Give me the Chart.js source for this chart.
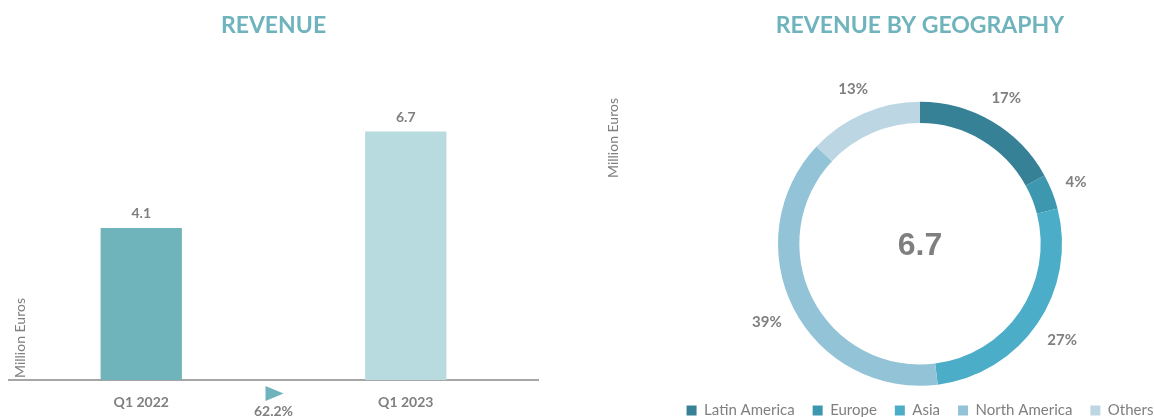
<!DOCTYPE html>
<html>
<head>
<meta charset="utf-8">
<title>Revenue</title>
<script src="https://cdn.jsdelivr.net/npm/chart.js@4"></script>
<style>
  html, body { margin: 0; padding: 0; background: #fff; }
  body { width: 1154px; height: 417px; overflow: hidden; position: relative; }
  #revenue-box { position: absolute; left: 0; top: 0; }
  #geo-box { position: absolute; left: 600px; top: 0; }
</style>
</head>
<body>
<div id="revenue-box"><canvas id="revenue" width="560" height="432"></canvas></div>
<div id="geo-box"><canvas id="geo" width="640" height="428"></canvas></div>
<script>
// Revenue per quarter (million euros)
const quarters = ['Q1 2022', 'Q1 2023'];
const revenue = [4.1, 6.7];
const growthLabel = '62.2%';

// Revenue split by geography for the latest quarter (%)
const regions = ['Latin America', 'Europe', 'Asia', 'North America', 'Others'];
const regionShares = [17, 4, 27, 39, 13];
const totalRevenue = revenue[revenue.length - 1];

const grey = '#7f7f7f';
const teal = '#6fb3bd';
const regionColors = ['#368196', '#3d97ae', '#4badc7', '#93c3d6', '#bcd7e3'];
const fontMain = 'Lato, "Open Sans", sans-serif';

// texts drawn on top of the bar chart: values, growth arrow and unit
const barExtras = {
  id: 'barExtras',
  afterDatasetsDraw(chart) {
    const ctx = chart.ctx;
    const meta = chart.getDatasetMeta(0);
    ctx.save();
    ctx.fillStyle = grey;
    ctx.font = 'bold 14px ' + fontMain;
    ctx.textAlign = 'center';
    ctx.textBaseline = 'middle';
    meta.data.forEach((bar, i) => {
      ctx.fillText(revenue[i].toFixed(1), bar.x, bar.y - 14);
    });

    // growth between the two quarters
    const x = chart.scales.x;
    const mid = (x.getPixelForValue(0) + x.getPixelForValue(1)) / 2;
    ctx.fillStyle = teal;
    ctx.beginPath();
    ctx.moveTo(mid - 8, 386);
    ctx.lineTo(mid + 10, 393.5);
    ctx.lineTo(mid - 8, 401);
    ctx.closePath();
    ctx.fill();
    ctx.fillStyle = grey;
    ctx.fillText(growthLabel, mid, 411);

    // unit label
    ctx.font = '14px ' + fontMain;
    ctx.textAlign = 'left';
    ctx.translate(20, 378);
    ctx.rotate(-Math.PI / 2);
    ctx.fillText('Million Euros', 0, 0);
    ctx.restore();
  }
};

new Chart(document.getElementById('revenue'), {
  type: 'bar',
  data: {
    labels: quarters,
    datasets: [{
      data: revenue,
      backgroundColor: ['#6fb3bb', '#b7dbdf'],
      barPercentage: 0.384,
      categoryPercentage: 0.8
    }]
  },
  options: {
    responsive: false,
    animation: false,
    layout: { padding: { left: 9, right: 22, top: 0, bottom: 7 } },
    plugins: {
      legend: { display: false },
      tooltip: { enabled: false },
      title: {
        display: true,
        text: 'REVENUE',
        color: teal,
        font: { family: fontMain, size: 23, weight: 'bold' },
        padding: { top: 12, bottom: 25 }
      }
    },
    scales: {
      x: {
        grid: { display: false, drawTicks: false },
        border: { display: true, color: '#a6a6a6', width: 2 },
        ticks: { color: grey, padding: 14, font: { family: fontMain, size: 14, weight: 'bold' } }
      },
      y: { display: false, min: 0, max: 8.5 }
    }
  },
  plugins: [barExtras]
});

// percentage labels around the ring and the total in its centre
const ringExtras = {
  id: 'ringExtras',
  afterDatasetsDraw(chart) {
    const ctx = chart.ctx;
    const meta = chart.getDatasetMeta(0);
    ctx.save();
    ctx.fillStyle = grey;
    ctx.textAlign = 'center';
    ctx.textBaseline = 'middle';
    ctx.font = 'bold 15px ' + fontMain;
    meta.data.forEach((arc, i) => {
      const text = regionShares[i] + '%';
      const w = ctx.measureText(text).width;
      const a = (arc.startAngle + arc.endAngle) / 2;
      const d = arc.outerRadius + 13 + (w / 2) * Math.abs(Math.cos(a)) + 8 * Math.abs(Math.sin(a));
      ctx.fillText(text, arc.x + d * Math.cos(a), arc.y + d * Math.sin(a));
    });
    const c = meta.data[0];
    ctx.font = 'bold 32px "Liberation Sans", Arial, sans-serif';
    ctx.fillText(totalRevenue.toFixed(1), c.x, c.y + 2);

    // unit label
    ctx.font = '14px ' + fontMain;
    ctx.textAlign = 'left';
    ctx.translate(13, 178);
    ctx.rotate(-Math.PI / 2);
    ctx.fillText('Million Euros', 0, 0);
    ctx.restore();
  }
};

new Chart(document.getElementById('geo'), {
  type: 'doughnut',
  data: {
    labels: regions,
    datasets: [{
      data: regionShares,
      backgroundColor: regionColors,
      borderWidth: 0,
      radius: 142,
      cutout: 120
    }]
  },
  options: {
    responsive: false,
    animation: false,
    plugins: {
      tooltip: { enabled: false },
      title: {
        display: true,
        text: 'REVENUE BY GEOGRAPHY',
        color: teal,
        font: { family: fontMain, size: 23, weight: 'bold' },
        padding: { top: 12, bottom: 63 }
      },
      legend: {
        position: 'bottom',
        labels: {
          boxWidth: 10,
          boxHeight: 10,
          padding: 18,
          color: grey,
          font: { family: fontMain, size: 15 }
        }
      }
    }
  },
  plugins: [ringExtras]
});
</script>
</body>
</html>
